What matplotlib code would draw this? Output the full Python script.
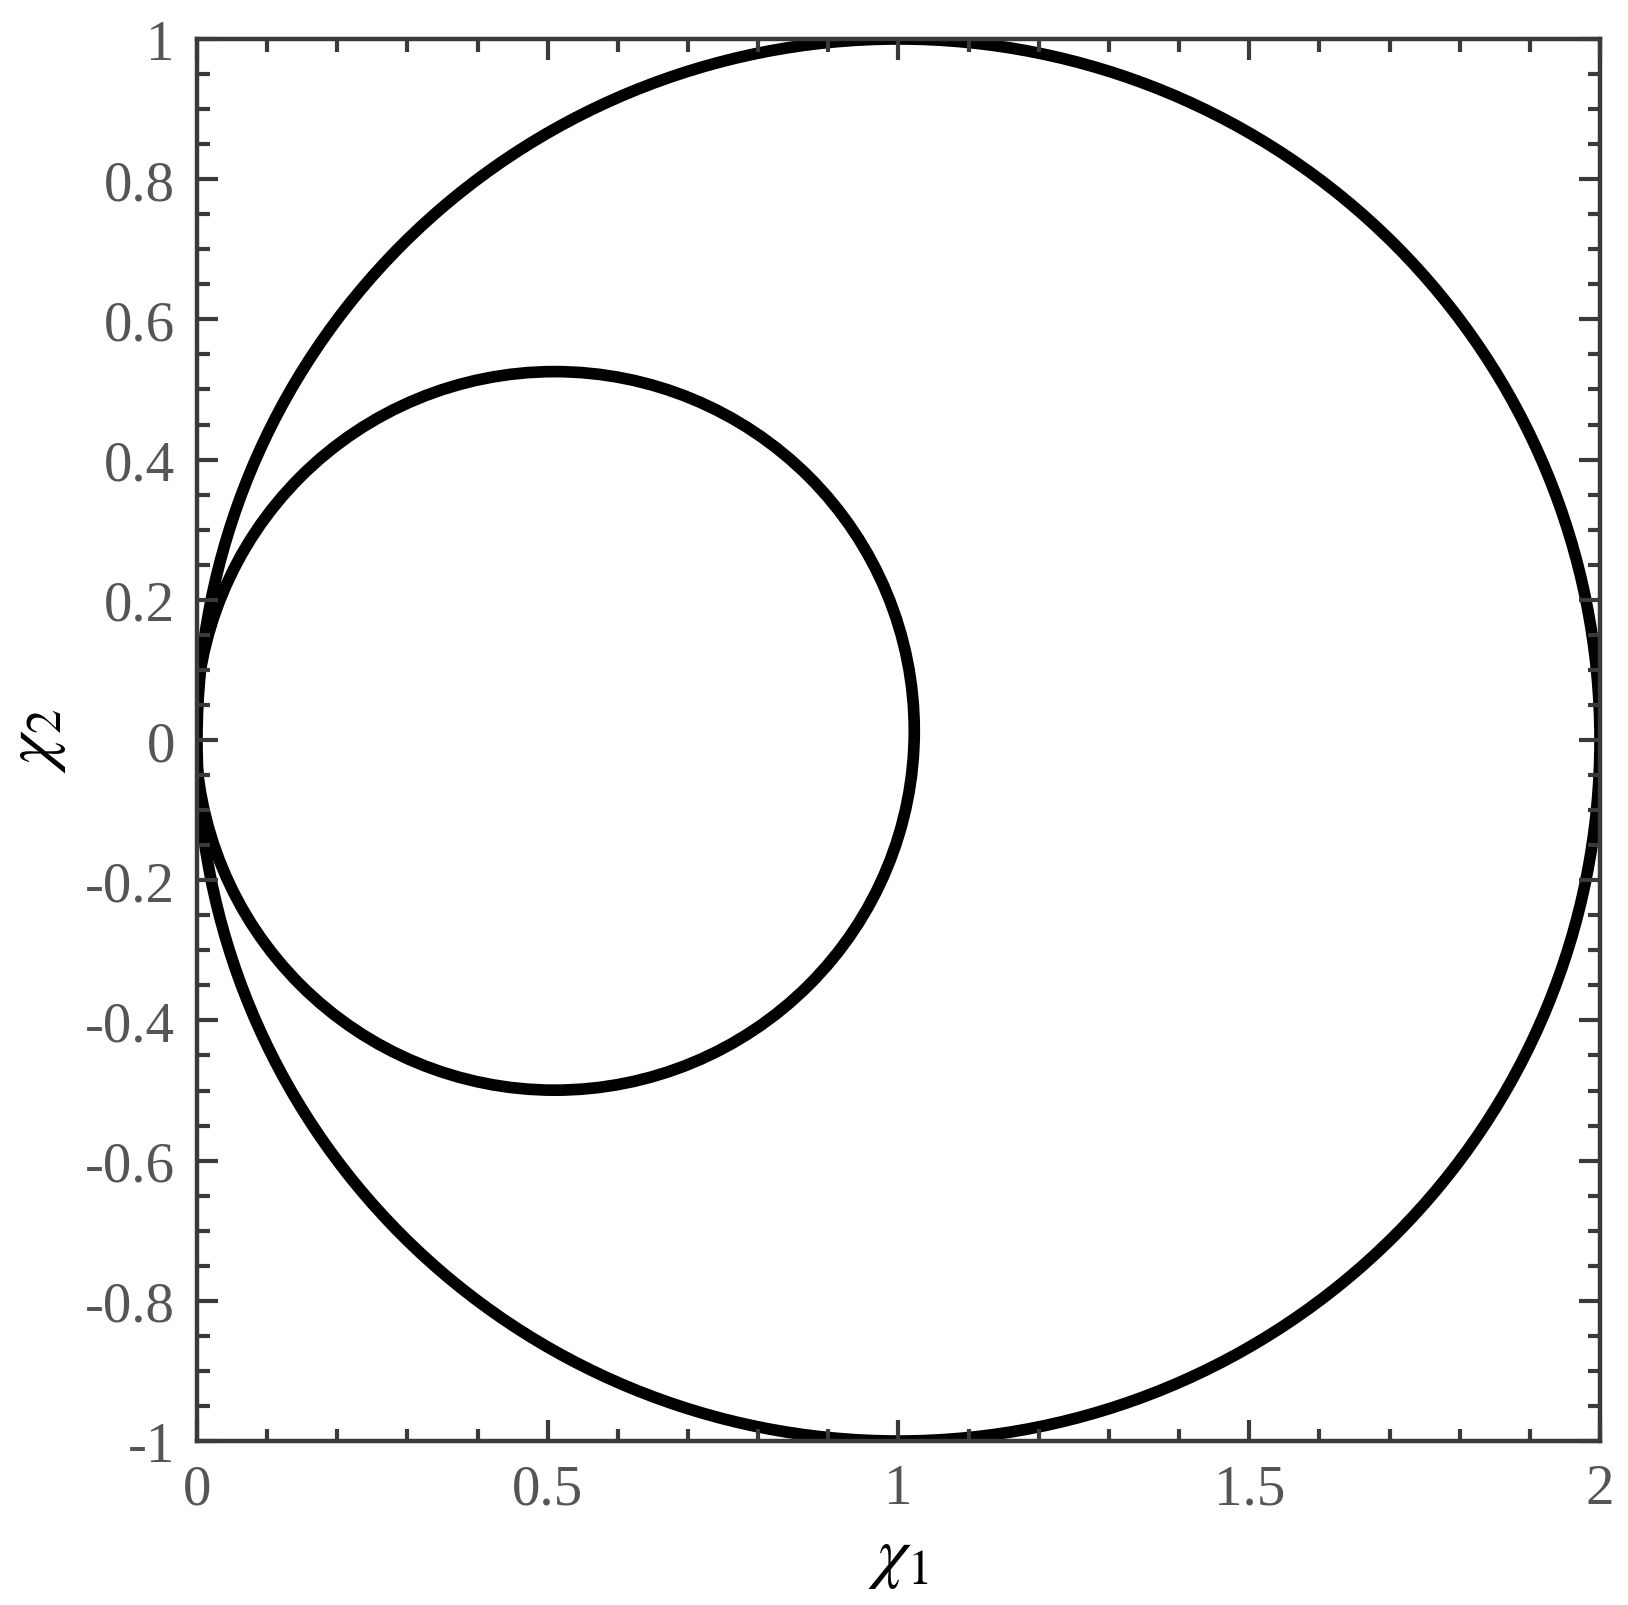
import matplotlib
matplotlib.use('Agg')
import matplotlib.pyplot as plt
from matplotlib.patches import Ellipse
from matplotlib.ticker import MultipleLocator

# curves: centre x, centre y, width, height
outer_circle = (1.0, 0.0, 2.0, 2.0)
inner_circle = (0.51, 0.013, 1.025, 1.025)

# axis ticks
x_ticks = [0, 0.5, 1, 1.5, 2]
x_labels = ['0', '0.5', '1', '1.5', '2']
y_ticks = [-1, -0.8, -0.6, -0.4, -0.2, 0, 0.2, 0.4, 0.6, 0.8, 1]
y_labels = ['-1', '-0.8', '-0.6', '-0.4', '-0.2', '0', '0.2', '0.4', '0.6', '0.8', '1']

plt.rcParams['font.family'] = ['Liberation Serif', 'DejaVu Serif']
plt.rcParams['mathtext.fontset'] = 'stix'
plt.rcParams['axes.unicode_minus'] = False

fig = plt.figure(figsize=(16.28, 16.06), dpi=100)
ax = fig.add_axes([0.121, 0.1021, 0.8618, 0.8730])

for cx, cy, w, h in [outer_circle, inner_circle]:
    ax.add_patch(Ellipse((cx, cy), w, h, fill=False, edgecolor='black', linewidth=8.4))

ax.set_xlim(0, 2)
ax.set_ylim(-1, 1)
ax.set_xticks(x_ticks)
ax.set_xticklabels(x_labels)
ax.set_yticks(y_ticks)
ax.set_yticklabels(y_labels)
ax.xaxis.set_minor_locator(MultipleLocator(0.1))
ax.yaxis.set_minor_locator(MultipleLocator(0.05))

ax.tick_params(which='both', direction='in', top=True, right=True,
               colors='#3a3a3a', labelcolor='#555555', labelsize=41, pad=16)
ax.tick_params(which='major', length=15, width=3)
ax.tick_params(which='minor', length=9, width=3)
for s in ax.spines.values():
    s.set_linewidth(3.2)
    s.set_color('#3a3a3a')

ax.set_xlabel(r'$\chi_1$', fontsize=50, labelpad=8)
ax.set_ylabel(r'$\chi_2$', fontsize=50, labelpad=12)

fig.savefig('out.png', dpi=100)
